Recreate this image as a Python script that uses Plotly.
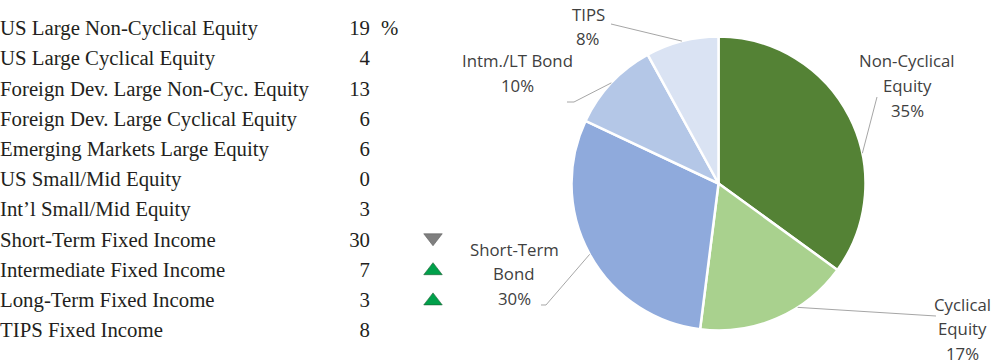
import plotly.graph_objects as go
import math

# ---------------- data ----------------
asset_classes = ["US Large Non-Cyclical Equity", "US Large Cyclical Equity",
                 "Foreign Dev. Large Non-Cyc. Equity", "Foreign Dev. Large Cyclical Equity",
                 "Emerging Markets Large Equity", "US Small/Mid Equity",
                 "Int\u2019l Small/Mid Equity", "Short-Term Fixed Income",
                 "Intermediate Fixed Income", "Long-Term Fixed Income", "TIPS Fixed Income"]
weights = [19, 4, 13, 6, 6, 0, 3, 30, 7, 3, 8]
changes = ["", "", "", "", "", "", "", "down", "up", "up", ""]

pie_labels = ["Non-Cyclical Equity", "Cyclical Equity", "Short-Term Bond", "Intm./LT Bond", "TIPS"]
pie_label_lines = [["Non-Cyclical", "Equity"], ["Cyclical", "Equity"], ["Short-Term", "Bond"],
                   ["Intm./LT Bond"], ["TIPS"]]
pie_values = [35, 17, 30, 10, 8]
pie_colors = ["#548235", "#A9D18E", "#8FAADC", "#B4C7E7", "#DAE3F3"]

W, H = 1004, 362

def px(x):
    return x / W

def py(y):
    return 1 - y / H

fig = go.Figure()

rows = list(range(len(asset_classes)))
row_y0, row_dy = 30, 30.2
serif = "Liberation Serif"
tsize = 20.8
tcol = "#231F20"

fig.add_trace(go.Scatter(x=[0] * len(rows), y=rows, mode="text", text=asset_classes,
                         textposition="middle right",
                         textfont=dict(family=serif, size=tsize, color=tcol),
                         hoverinfo="skip", showlegend=False))
fig.add_trace(go.Scatter(x=[370] * len(rows), y=rows, mode="text", text=[str(v) for v in weights],
                         textposition="middle left",
                         textfont=dict(family=serif, size=tsize, color=tcol),
                         hoverinfo="skip", showlegend=False))
fig.add_trace(go.Scatter(x=[381], y=[0], mode="text", text=["%"], textposition="middle right",
                         textfont=dict(family=serif, size=tsize, color=tcol),
                         hoverinfo="skip", showlegend=False))

down_rows = [i for i, c in enumerate(changes) if c == "down"]
up_rows = [i for i, c in enumerate(changes) if c == "up"]
fig.add_trace(go.Scatter(x=[433] * len(down_rows), y=[r - 0.12 for r in down_rows], mode="markers",
                         marker=dict(symbol="triangle-down", size=16, color="#7F7F7F",
                                     line=dict(color="#5a5a5a", width=0.6)),
                         hoverinfo="skip", showlegend=False))
fig.add_trace(go.Scatter(x=[433] * len(up_rows), y=[r - 0.03 for r in up_rows], mode="markers",
                         marker=dict(symbol="triangle-up", size=16, color="#00A04A",
                                     line=dict(color="#1d5a33", width=0.6)),
                         hoverinfo="skip", showlegend=False))

# pie geometry
cx, cy, R = 718.5, 183.5, 147
fig.add_trace(go.Pie(labels=pie_labels, values=pie_values, sort=False, direction="clockwise",
                     rotation=0, marker=dict(colors=pie_colors, line=dict(color="white", width=2.5)),
                     textinfo="none", hoverinfo="label+percent", showlegend=False,
                     domain=dict(x=[px(cx - R), px(cx + R)], y=[py(cy + R), py(cy - R)])))

# label layout (pixel positions of text block centers and leader-line paths)
label_pos = {
    "Non-Cyclical Equity": dict(x=907, y=61),
    "Cyclical Equity": dict(x=962, y=304),
    "Short-Term Bond": dict(x=514, y=249),
    "Intm./LT Bond": dict(x=517, y=61),
    "TIPS": dict(x=588, y=14),
}
leader_ends = {
    "Non-Cyclical Equity": [(877, 97)],
    "Cyclical Equity": [(936, 316)],
    "Short-Term Bond": [(546, 305), (541, 305)],
    "Intm./LT Bond": [(574, 102), (567, 102)],
    "TIPS": [(611, 24)],
}
anchor_frac = {"Non-Cyclical Equity": 0.62, "Cyclical Equity": 0.35, "Short-Term Bond": 0.5,
               "Intm./LT Bond": 0.5, "TIPS": 0.5}

total = sum(pie_values)
cum = 0
lcol = "#404040"
for lab, lines, v in zip(pie_labels, pie_label_lines, pie_values):
    frac = (cum + v * anchor_frac[lab]) / total
    cum += v
    ang = 2 * math.pi * frac
    ax, ay = cx + R * math.sin(ang), cy - R * math.cos(ang)
    pts = [(ax, ay)] + leader_ends[lab]
    path = "M " + " L ".join(f"{px(x):.5f},{py(y):.5f}" for x, y in pts)
    fig.add_shape(type="path", path=path, xref="paper", yref="paper",
                  line=dict(color="#A6A6A6", width=1))
    pct = f"{round(100 * v / total)}%"
    p = label_pos[lab]
    for k, t in enumerate(lines + [pct]):
        fig.add_annotation(x=px(p["x"]), y=py(p["y"] + 24.5 * k), xref="paper", yref="paper",
                           text=t, showarrow=False, xanchor="center", yanchor="middle",
                           font=dict(family="Open Sans", size=16.8, color=lcol))

fig.update_layout(
    width=W, height=H, margin=dict(l=0, r=0, t=0, b=0),
    paper_bgcolor="white", plot_bgcolor="white",
    xaxis=dict(range=[0, W], visible=False, fixedrange=True),
    yaxis=dict(range=[(H - row_y0) / row_dy, -row_y0 / row_dy], visible=False, fixedrange=True),
)

fig.write_html("out.html", config={"displayModeBar": False},
               post_script="document.body.style.margin='0';document.body.style.overflow='hidden';")
